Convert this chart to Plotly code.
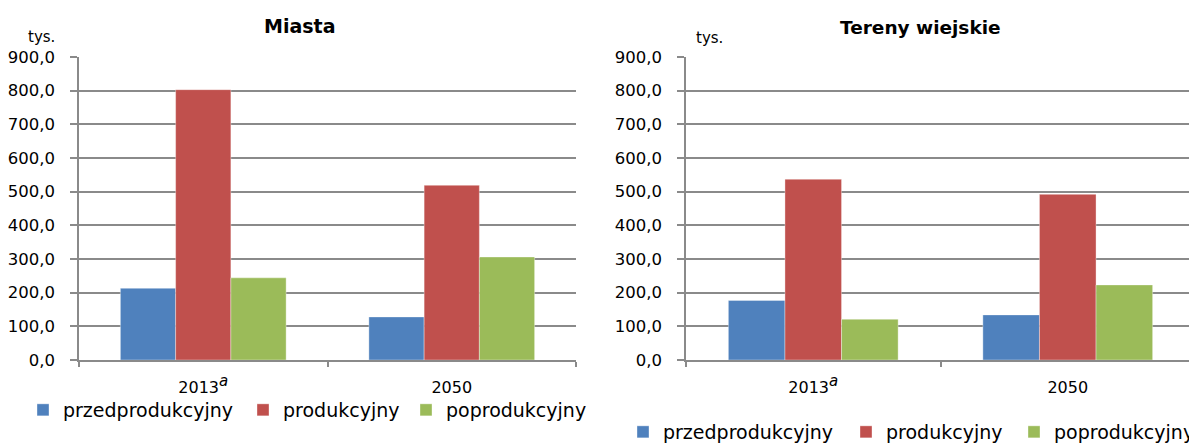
import plotly.graph_objects as go

categories = ["2013<sup><span style=\"font-size:15px\"><i>a</i></span></sup>", "2050"]
series_names = ["przedprodukcyjny", "produkcyjny", "poprodukcyjny"]
miasta = {
    "przedprodukcyjny": [213, 128],
    "produkcyjny": [803, 519],
    "poprodukcyjny": [244, 306],
}
wies = {
    "przedprodukcyjny": [177, 134],
    "produkcyjny": [537, 492],
    "poprodukcyjny": [121, 223],
}
colors = {"przedprodukcyjny": "#4F81BD", "produkcyjny": "#C0504D", "poprodukcyjny": "#9BBB59"}
y_ticks = [0, 100, 200, 300, 400, 500, 600, 700, 800, 900]
y_tick_text = ["0,0", "100,0", "200,0", "300,0", "400,0", "500,0", "600,0", "700,0", "800,0", "900,0"]

W, H = 1197, 443
OFF = 8  # page body margin
FONT = "DejaVu Sans"
GRID = "#8a8a8a"


def px(x):
    return (x - OFF) / W


def py(y):
    return 1 - (y - OFF) / H


# legend text start positions (page px) for each panel
left_text_x = [63, 283, 446]
right_text_x = [663, 886, 1054]
TEXT_OFF = 40

fig = go.Figure()
legends = {}
for i, name in enumerate(series_names):
    lg = "legend" if i == 0 else f"legend{i + 1}"
    fig.add_trace(go.Bar(x=categories, y=miasta[name], name=name, marker_color=colors[name],
                         marker_line=dict(width=0.6, color="rgba(255,255,255,0.6)"),
                         xaxis="x", yaxis="y", legend=lg, showlegend=True))
    legends[lg] = dict(x=px(left_text_x[i] - TEXT_OFF), y=py(410))
for i, name in enumerate(series_names):
    lg = f"legend{i + 4}"
    fig.add_trace(go.Bar(x=categories, y=wies[name], name=name, marker_color=colors[name],
                         marker_line=dict(width=0.6, color="rgba(255,255,255,0.6)"),
                         xaxis="x2", yaxis="y2", legend=lg, showlegend=True))
    legends[lg] = dict(x=px(right_text_x[i] - TEXT_OFF), y=py(432))

common_x = dict(type="category", tickson="boundaries", ticks="outside", ticklen=5, tickcolor=GRID,
                tickwidth=1.5, showline=True, linecolor=GRID, linewidth=1.5, showgrid=False,
                ticklabelstandoff=12,
                tickfont=dict(family=FONT, size=16, color="#000"))
common_y = dict(range=[0, 900], tickvals=y_ticks, ticktext=y_tick_text, showgrid=True,
                gridcolor=GRID, gridwidth=1.5, ticks="outside", ticklen=7, tickcolor=GRID,
                tickwidth=1.5, showline=True, linecolor=GRID, linewidth=1.5, zeroline=False,
                ticklabelstandoff=12,
                tickfont=dict(family=FONT, size=16.5, color="#000"), domain=[py(360), py(57)])

layout_legends = {}
for lg, pos in legends.items():
    layout_legends[lg] = dict(orientation="h", x=pos["x"], y=pos["y"], xanchor="left", yanchor="middle",
                              font=dict(family=FONT, size=19, color="#000"),
                              bgcolor="rgba(0,0,0,0)")

fig.update_layout(
    width=W, height=H, margin=dict(l=0, r=0, t=0, b=0, autoexpand=False),
    paper_bgcolor="white", plot_bgcolor="white", showlegend=True,
    barmode="group", bargap=0.333, bargroupgap=0,
    xaxis=dict(common_x, domain=[px(79), px(576)], anchor="y"),
    yaxis=dict(common_y, anchor="x"),
    xaxis2=dict(common_x, domain=[px(686), px(1195)], anchor="y2"),
    yaxis2=dict(common_y, anchor="x2"),
    annotations=[
        dict(text="<b>Miasta</b>", x=px(299), y=py(26), xref="paper", yref="paper",
             xanchor="center", yanchor="middle",
             showarrow=False, font=dict(family=FONT, size=19, color="#000")),
        dict(text="<b>Tereny wiejskie</b>", x=px(920), y=py(27), xref="paper", yref="paper",
             xanchor="center", yanchor="middle",
             showarrow=False, font=dict(family=FONT, size=18.5, color="#000")),
        dict(text="tys.", x=px(41), y=py(37), xref="paper", yref="paper",
             xanchor="center", yanchor="middle",
             showarrow=False, font=dict(family=FONT, size=15, color="#000")),
        dict(text="tys.", x=px(709), y=py(38), xref="paper", yref="paper",
             xanchor="center", yanchor="middle",
             showarrow=False, font=dict(family=FONT, size=15, color="#000")),
    ],
    **layout_legends,
)

fig.write_html("out.html")
